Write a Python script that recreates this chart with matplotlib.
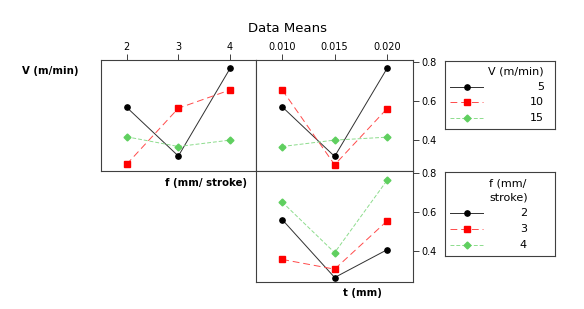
import matplotlib
matplotlib.use("Agg")
import matplotlib.pyplot as plt

# factor levels
f_levels = [2, 3, 4]
t_levels = [0.010, 0.015, 0.020]
f_ticklabels = ["2", "3", "4"]
t_ticklabels = ["0.010", "0.015", "0.020"]
v_names = ["5", "10", "15"]
f_names = ["2", "3", "4"]

# interaction means V x f
v5_by_f = [0.569, 0.318, 0.769]
v10_by_f = [0.275, 0.564, 0.658]
v15_by_f = [0.417, 0.367, 0.400]

# interaction means V x t
v5_by_t = [0.571, 0.316, 0.769]
v10_by_t = [0.658, 0.273, 0.562]
v15_by_t = [0.367, 0.400, 0.415]

# interaction means f x t
f2_by_t = [0.562, 0.264, 0.407]
f3_by_t = [0.357, 0.307, 0.555]
f4_by_t = [0.652, 0.392, 0.764]

W, H = 584, 309
fig = plt.figure(figsize=(W / 100, H / 100), dpi=100)

# series styles: black solid circle, red dashed square, green fine-dash diamond
styles = [
    dict(color="#303030", linestyle="-", marker="o", mfc="black", mec="black"),
    dict(color="#ff4a4a", linestyle=(0, (7, 4)), marker="s", mfc="#ff0000", mec="#ff0000"),
    dict(color="#8ddc8d", linestyle=(0, (4, 2)), marker="D", mfc="#5fcf5f", mec="#5fcf5f"),
]
msizes = [3.8, 3.8, 3.5]


def px_axes(x0, y0, x1, y1):
    # pixel box (top-left origin) -> figure axes
    return fig.add_axes([x0 / W, 1 - y1 / H, (x1 - x0) / W, (y1 - y0) / H])


def style_panel(ax):
    for s in ax.spines.values():
        s.set_color("#404040")
        s.set_linewidth(0.8)
    ax.set_ylim(0.241, 0.812)
    ax.tick_params(length=4, width=0.7, color="#404040", labelsize=7, pad=2)


ax1 = px_axes(100.7, 60, 256, 171)
ax2 = px_axes(256, 60, 413.3, 171)
ax3 = px_axes(256, 171, 413.3, 282)

for ser, st, ms in zip([v5_by_f, v10_by_f, v15_by_f], styles, msizes):
    ax1.plot(f_levels, ser, lw=0.7, ms=ms, **st)
for ser, st, ms in zip([v5_by_t, v10_by_t, v15_by_t], styles, msizes):
    ax2.plot(t_levels, ser, lw=0.7, ms=ms, **st)
for ser, st, ms in zip([f2_by_t, f3_by_t, f4_by_t], styles, msizes):
    ax3.plot(t_levels, ser, lw=0.7, ms=ms, **st)

for ax in (ax1, ax2, ax3):
    style_panel(ax)

ax1.set_xlim(1.5, 4.5)
ax1.set_xticks(f_levels)
ax1.set_xticklabels(f_ticklabels)
ax1.xaxis.tick_top()
ax1.set_yticks([])

ax2.set_xlim(0.0075, 0.0225)
ax2.set_xticks(t_levels)
ax2.set_xticklabels(t_ticklabels)
ax2.xaxis.tick_top()
ax2.yaxis.tick_right()
ax2.set_yticks([0.4, 0.6, 0.8])
ax2.set_yticklabels(["0.4", "0.6", "0.8"])

ax3.set_xlim(0.0075, 0.0225)
ax3.set_xticks([])
ax3.yaxis.tick_right()
ax3.set_yticks([0.4, 0.6, 0.8])
ax3.set_yticklabels(["0.4", "0.6", "0.8"])

# titles and factor labels
fig.text(287.5 / W, 1 - 28.5 / H, "Data Means", ha="center", va="center", fontsize=9.5)
fig.text(22 / W, 1 - 71.5 / H, "V (m/min)", ha="left", va="center", fontsize=7.3, fontweight="bold")
fig.text(247 / W, 1 - 182.7 / H, "f (mm/ stroke)", ha="right", va="center", fontsize=7.3, fontweight="bold")
fig.text(382 / W, 1 - 292.7 / H, "t (mm)", ha="right", va="center", fontsize=7.3, fontweight="bold")


def draw_key(x0, y0, x1, y1, title_lines, title_x, title_ha, title_ys, names, name_x, row_ys):
    lax = px_axes(x0, y0, x1, y1)
    lax.set_xlim(0, x1 - x0)
    lax.set_ylim(y1 - y0, 0)
    lax.set_xticks([])
    lax.set_yticks([])
    for s in lax.spines.values():
        s.set_color("#404040")
        s.set_linewidth(0.8)
    for line, ty in zip(title_lines, title_ys):
        lax.text(title_x, ty, line, ha=title_ha, va="center", fontsize=8)
    for name, ry, st, ms in zip(names, row_ys, styles, msizes):
        lax.plot([5, 38], [ry, ry], lw=0.7, color=st["color"], linestyle=st["linestyle"])
        lax.plot([21.5], [ry], marker=st["marker"], ms=ms, mfc=st["mfc"], mec=st["mec"], linestyle="none")
        lax.text(name_x, ry, name, ha="right", va="center", fontsize=8)


draw_key(445, 60.7, 555, 128.7, ["V (m/min)"], 99, "right", [10.5],
         v_names, 99, [26, 41.3, 57.3])
draw_key(445, 171.7, 555, 255.7, ["f (mm/", "stroke)"], 44, "left", [11.6, 25.6],
         f_names, 82, [41.6, 57.6, 73.3])

fig.savefig("out.png", dpi=100)
